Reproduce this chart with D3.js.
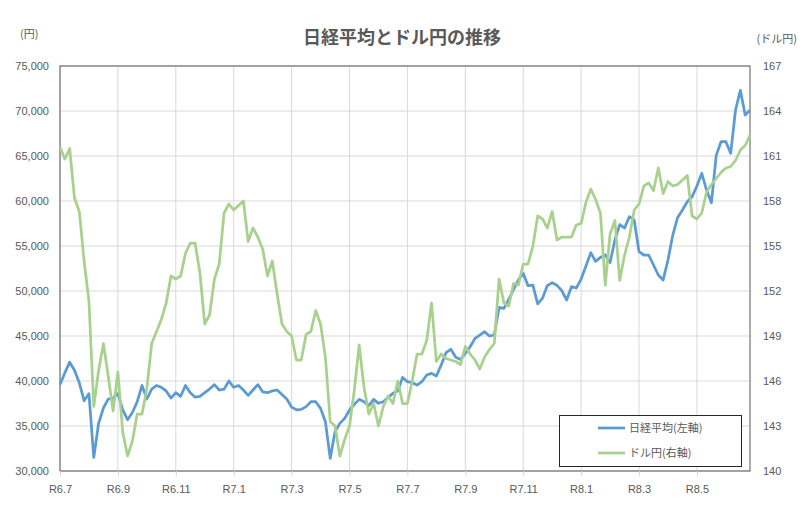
<!DOCTYPE html>
<html>
<head>
<meta charset="utf-8">
<script src="https://cdn.jsdelivr.net/npm/d3@7"></script>
<style>
  body { margin: 0; background: #fff; }
  text { font-family: 'Liberation Sans', 'Noto Sans CJK JP', sans-serif; }
</style>
</head>
<body>
<div id="container"></div>
<script>
let width = 800;
let height = 506;

// plot area
let plotL = 60, plotR = 750, plotT = 66, plotB = 471;

// tick labels (every 12 samples = 2 months)
let xLabels = ["R6.7", "R6.9", "R6.11", "R7.1", "R7.3", "R7.5", "R7.7", "R7.9", "R7.11", "R8.1", "R8.3", "R8.5"];
let leftTicks = [30000, 35000, 40000, 45000, 50000, 55000, 60000, 65000, 70000, 75000];
let rightTicks = [140, 143, 146, 149, 152, 155, 158, 161, 164, 167];

// 日経平均 (円)
let nikkei = [
  39600, 40900, 42100, 41200, 39800, 37800, 38600, 31500, 35300, 37000,
  38000, 38100, 38600, 36800, 35700, 36500, 37700, 39500, 38000, 39100,
  39500, 39300, 38900, 38100, 38700, 38300, 39500, 38700, 38200, 38300,
  38700, 39100, 39600, 39000, 39100, 40000, 39300, 39500, 39000, 38400,
  39000, 39600, 38800, 38700, 38900, 39000, 38500, 38000, 37100, 36800,
  36850, 37150, 37700, 37700, 36960, 35480, 31400, 34370, 35290, 35850,
  36780, 37400, 37960, 37700, 37260, 37960, 37520, 37700, 38180, 38630,
  38890, 40400, 39920, 39810, 39550, 39920, 40660, 40850, 40550, 41780,
  43150, 43520, 42630, 42400, 43070, 43810, 44740, 45110, 45480, 45000,
  45110, 48190, 48070, 49070, 50180, 51220, 51960, 50590, 50660, 48560,
  49200, 50600, 50920, 50630, 50040, 49000, 50480, 50330, 51330, 52780,
  54260, 53290, 53740, 54030, 53150, 55670, 57370, 57000, 58260, 57890,
  54370, 54000, 54000, 52890, 51780, 51220, 53450, 56220, 58180, 59000,
  59920, 60480, 61670, 63070, 61220, 59800, 65070, 66590, 66590, 65300,
  70110, 72300, 69550, 70110
];

// ドル円
let usdjpy = [
  161.6, 160.8, 161.5, 158.2, 157.3, 154.0, 151.3, 144.3, 146.7, 148.5,
  146.3, 144.0, 146.6, 142.6, 141.0, 142.0, 143.8, 143.8, 145.5, 148.5,
  149.3, 150.1, 151.2, 153.0, 152.8, 153.0, 154.5, 155.2, 155.2, 153.2,
  149.8, 150.4, 152.8, 153.8, 157.2, 157.8, 157.4, 157.7, 158.0, 155.3,
  156.2, 155.6, 154.8, 153.0, 154.0, 151.8, 149.8, 149.3, 149.0, 147.4,
  147.4, 149.1, 149.3, 150.7, 149.8, 147.6, 143.3, 143.0, 141.0, 142.1,
  143.0, 145.4, 148.4, 145.6, 143.8, 144.5, 143.0, 144.3, 145.0, 144.5,
  146.0, 144.5, 144.5, 146.0, 147.8, 147.8, 148.7, 151.2, 147.3, 147.8,
  147.5, 147.4, 147.3, 147.1, 148.3, 147.8, 147.4, 146.8, 147.6, 148.1,
  148.5, 152.8, 151.2, 151.0, 152.5, 152.4, 153.8, 153.8, 155.0, 157.0,
  156.8, 156.2, 157.3, 155.4, 155.6, 155.6, 155.6, 156.4, 156.5, 157.9,
  158.8, 158.1, 157.2, 152.4, 155.8, 156.7, 152.7, 154.4, 155.6, 157.4,
  157.8, 159.0, 159.2, 158.7, 160.2, 158.5, 159.3, 159.0, 159.1, 159.4,
  159.7, 157.0, 156.8, 157.2, 158.6, 159.1, 159.5, 159.9, 160.2, 160.3,
  160.7, 161.4, 161.7, 162.4
];

let labelEvery = 12;

let viz = d3.select("#container").append("svg")
    .attr("width", width)
    .attr("height", height)
;

let x = d3.scaleLinear()
  .domain([0, nikkei.length - 1])
  .range([plotL, plotR])
;
let yLeft = d3.scaleLinear()
  .domain([30000, 75000])
  .range([plotB, plotT])
;
let yRight = d3.scaleLinear()
  .domain([140, 167])
  .range([plotB, plotT])
;

let xTickIdx = xLabels.map(function(d, i){ return i * labelEvery; });

// gridlines
viz.append("g")
  .attr("class", "hgrid")
  .selectAll("line")
  .data(leftTicks)
  .enter().append("line")
    .attr("x1", plotL)
    .attr("x2", plotR)
    .attr("y1", function(d){ return yLeft(d); })
    .attr("y2", function(d){ return yLeft(d); })
    .attr("stroke", "#d9d9d9")
    .attr("stroke-width", 1)
;
viz.append("g")
  .attr("class", "vgrid")
  .selectAll("line")
  .data(xTickIdx)
  .enter().append("line")
    .attr("x1", function(d){ return x(d); })
    .attr("x2", function(d){ return x(d); })
    .attr("y1", plotT)
    .attr("y2", plotB)
    .attr("stroke", "#d9d9d9")
    .attr("stroke-width", 1)
;

// plot border
viz.append("rect")
  .attr("x", plotL)
  .attr("y", plotT)
  .attr("width", plotR - plotL)
  .attr("height", plotB - plotT)
  .attr("fill", "none")
  .attr("stroke", "#595959")
  .attr("stroke-width", 1)
;

// axes
let axL = viz.append("g")
  .attr("transform", "translate(" + plotL + ",0)")
  .call(d3.axisLeft(yLeft).tickValues(leftTicks).tickFormat(d3.format(",")).tickSize(0).tickPadding(11))
;
let axR = viz.append("g")
  .attr("transform", "translate(" + plotR + ",0)")
  .call(d3.axisRight(yRight).tickValues(rightTicks).tickSize(0).tickPadding(13))
;
let axB = viz.append("g")
  .attr("transform", "translate(0," + plotB + ")")
  .call(d3.axisBottom(x).tickValues(xTickIdx).tickFormat(function(d, i){ return xLabels[i]; }).tickSize(5).tickPadding(9))
;
[axL, axR, axB].forEach(function(ax){
  ax.select(".domain").remove();
  ax.selectAll("text")
    .style("fill", "#595959")
    .style("font-size", "11px")
    .style("font-family", "'Liberation Sans', sans-serif");
  ax.selectAll("line").attr("stroke", "#d9d9d9");
});

// lines
let lineL = d3.line()
  .x(function(d, i){ return x(i); })
  .y(function(d){ return yLeft(d); })
;
let lineR = d3.line()
  .x(function(d, i){ return x(i); })
  .y(function(d){ return yRight(d); })
;

viz.append("path")
  .datum(nikkei)
  .attr("d", lineL)
  .attr("fill", "none")
  .attr("stroke", "#5b9bd5")
  .attr("stroke-width", 2.75)
  .attr("stroke-linejoin", "round")
;
viz.append("path")
  .datum(usdjpy)
  .attr("d", lineR)
  .attr("fill", "none")
  .attr("stroke", "#a9d18e")
  .attr("stroke-width", 2.75)
  .attr("stroke-linejoin", "round")
;

// title + units
viz.append("text")
  .text("日経平均とドル円の推移")
  .attr("x", 402)
  .attr("y", 44)
  .attr("text-anchor", "middle")
  .style("fill", "#595959")
  .style("font-size", "18px")
  .style("font-weight", "bold")
  .style("font-family", "'Noto Sans CJK JP', sans-serif")
;
viz.append("text")
  .text("(円)")
  .attr("x", 20)
  .attr("y", 38)
  .style("fill", "#595959")
  .style("font-size", "11px")
  .style("font-family", "'Noto Sans CJK JP', sans-serif")
;
viz.append("text")
  .text("(ドル円)")
  .attr("x", 797)
  .attr("y", 43)
  .attr("text-anchor", "end")
  .style("fill", "#595959")
  .style("font-size", "11px")
  .style("font-family", "'Noto Sans CJK JP', sans-serif")
;

// legend
let legendData = [
  {name: "日経平均(左軸)", color: "#5b9bd5"},
  {name: "ドル円(右軸)", color: "#a9d18e"}
];
let legend = viz.append("g").attr("class", "legend");
legend.append("rect")
  .attr("x", 559.5)
  .attr("y", 415.5)
  .attr("width", 182)
  .attr("height", 51)
  .attr("fill", "#fff")
  .attr("stroke", "#262626")
  .attr("stroke-width", 1)
;
let item = legend.selectAll(".item")
  .data(legendData)
  .enter().append("g")
  .attr("class", "item")
;
item.append("line")
  .attr("x1", 598)
  .attr("x2", 625)
  .attr("y1", function(d, i){ return 428 + i * 25; })
  .attr("y2", function(d, i){ return 428 + i * 25; })
  .attr("stroke", function(d){ return d.color; })
  .attr("stroke-width", 2.75)
;
item.append("text")
  .text(function(d){ return d.name; })
  .attr("x", 629)
  .attr("y", function(d, i){ return 432 + i * 25; })
  .style("fill", "#595959")
  .style("font-size", "11px")
  .style("font-family", "'Noto Sans CJK JP', sans-serif")
;
</script>
</body>
</html>
